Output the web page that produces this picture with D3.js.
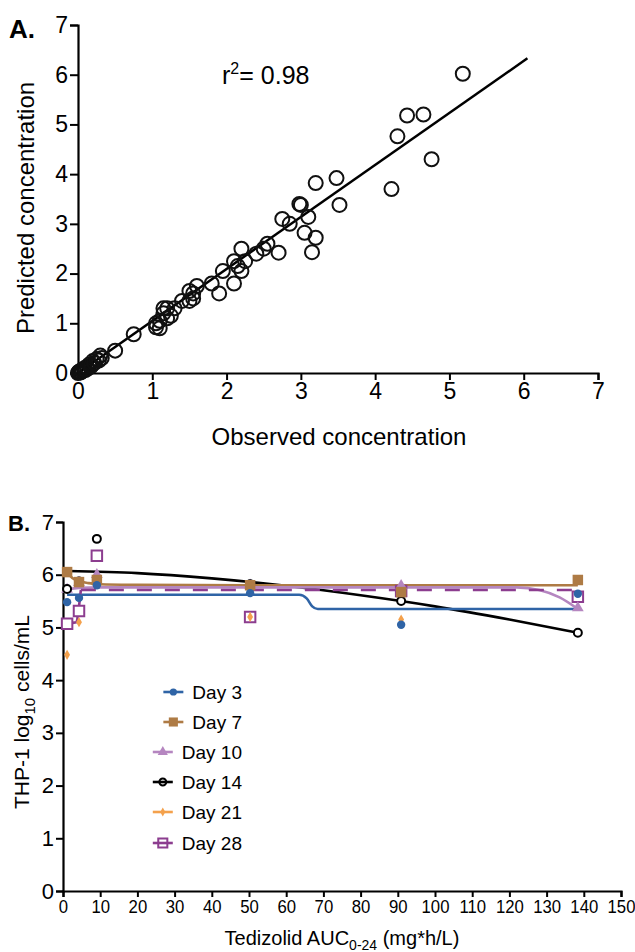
<!DOCTYPE html>
<html>
<head>
<meta charset="utf-8">
<script src="https://cdn.jsdelivr.net/npm/d3@7"></script>
<style>
  body { margin: 0; background: #fff; }
  svg text { font-family: "Liberation Sans", Arial, sans-serif; fill: #000; }
</style>
</head>
<body>
<svg id="fig" width="635" height="952"></svg>
<script>
// ---- Panel A data: observed vs predicted ----
var observedA = [0, 0.01, 0.02, 0.03, 0.04, 0.05, 0.06, 0.08, 0.09, 0.1, 0.12, 0.13, 0.15, 0.17, 0.18, 0.2, 0.22, 0.25, 0.28, 0.3, 0.32, 0.5, 0.75,
  1.05, 1.05, 1.1, 1.1, 1.15, 1.15, 1.2, 1.2, 1.25, 1.3, 1.4, 1.5, 1.5, 1.55, 1.55, 1.6, 1.8, 1.9, 1.95, 2.1, 2.1, 2.15, 2.2, 2.2, 2.25,
  2.4, 2.5, 2.55, 2.7, 2.75, 2.85, 2.98, 3.0, 3.05, 3.1, 3.15, 3.2, 3.2, 3.48, 3.52, 4.22, 4.3, 4.43, 4.65, 4.76, 5.18];
var predictedA = [0, 0.02, 0.03, 0.01, 0.02, 0.06, 0.04, 0.07, 0.1, 0.06, 0.12, 0.09, 0.17, 0.13, 0.15, 0.24, 0.2, 0.28, 0.25, 0.35, 0.3, 0.45, 0.78,
  1.0, 0.92, 0.9, 1.05, 1.2, 1.3, 1.1, 1.3, 1.15, 1.3, 1.45, 1.45, 1.65, 1.5, 1.6, 1.75, 1.8, 1.6, 2.05, 1.8, 2.25, 2.15, 2.5, 2.05, 2.25,
  2.4, 2.5, 2.6, 2.42, 3.1, 3.0, 3.4, 3.38, 2.82, 3.14, 2.43, 3.82, 2.72, 3.92, 3.38, 3.7, 4.76, 5.18, 5.2, 4.3, 6.02];
var fitLineA = [[0, 0], [6.05, 6.33]];
var ticksA = [0, 1, 2, 3, 4, 5, 6, 7];

// ---- Panel B data: THP-1 counts vs tedizolid AUC ----
var doses = [1.1, 4.3, 9.1, 50.3, 90.9, 138.4];
var day3 = [5.48, 5.56, 5.8, 5.65, 5.05, 5.64];
var day7 = [6.05, 5.86, 5.9, 5.8, 5.67, 5.9];
var day10 = [5.72, 5.85, 6.0, 5.8, 5.79, 5.37];
var day14 = [5.73, 5.87, 6.68, 5.82, 5.5, 4.9];
var day21 = [4.48, 5.1, null, 5.2, 5.15, null];
var day28 = [5.07, 5.31, 6.36, 5.2, 5.69, 5.58];

// fitted curves
var fit3x = [1.1, 63.5, 65.5, 67, 68.5, 138.4];
var fit3y = [5.62, 5.62, 5.55, 5.4, 5.35, 5.35];
var fit7x = [1.1, 2.5, 4.3, 7, 10, 20, 50, 138.4];
var fit7y = [6.05, 5.94, 5.88, 5.84, 5.82, 5.81, 5.8, 5.8];
var fit10x = [1.1, 4.3, 10, 122, 128, 133.5, 138.4];
var fit10y = [5.72, 5.75, 5.76, 5.76, 5.71, 5.57, 5.35];
var fit14x = [1.1, 20, 40, 60, 80, 100, 120, 138.4];
var fit14y = [6.07, 6.03, 5.93, 5.79, 5.61, 5.4, 5.15, 4.9];
var fit28x = [1.1, 3.6, 4.3, 4.8];
var fit28y = [5.08, 5.1, 5.4, 5.71];
var fit28dashX = [4.8, 138.4];
var fit28dashY = [5.71, 5.71];

var ticksBy = [0, 1, 2, 3, 4, 5, 6, 7];
var ticksBx = d3.range(0, 151, 10);

var svg = d3.select("#fig");

// ================= Panel A =================
var xA = d3.scaleLinear().domain([0, 7]).range([78, 598]);
var yA = d3.scaleLinear().domain([0, 7]).range([373, 25]);

var gA = svg.append("g");

gA.append("g")
  .attr("transform", "translate(0," + yA(0) + ")")
  .call(d3.axisBottom(xA).tickValues(ticksA).tickSize(7).tickPadding(3).tickFormat(d3.format("d")))
  .call(function(g){
    g.select(".domain").attr("stroke-width", 2.2);
    g.selectAll(".tick line").attr("stroke-width", 2);
    g.selectAll("text").attr("font-size", "23px").attr("font-family", null);
  });

gA.append("g")
  .attr("transform", "translate(" + xA(0) + ",0)")
  .call(d3.axisLeft(yA).tickValues(ticksA).tickSize(8).tickPadding(2).tickFormat(d3.format("d")))
  .call(function(g){
    g.select(".domain").attr("stroke-width", 2.2);
    g.selectAll(".tick line").attr("stroke-width", 2);
    g.selectAll("text").attr("font-size", "23px").attr("font-family", null);
  });

gA.append("path")
  .datum(fitLineA)
  .attr("fill", "none")
  .attr("stroke", "#000")
  .attr("stroke-width", 2.5)
  .attr("d", d3.line().x(function(d){ return xA(d[0]); }).y(function(d){ return yA(d[1]); }));

gA.selectAll("circle.pt")
  .data(observedA.map(function(o, i){ return [o, predictedA[i]]; }))
  .enter()
  .append("circle")
  .attr("class", "pt")
  .attr("cx", function(d){ return xA(d[0]); })
  .attr("cy", function(d){ return yA(d[1]); })
  .attr("r", 7)
  .attr("fill", "none")
  .attr("stroke", "#111")
  .attr("stroke-width", 2);

var r2 = gA.append("text").attr("x", 222).attr("y", 84).attr("font-size", "25px");
r2.append("tspan").text("r");
r2.append("tspan").attr("dy", -10).attr("font-size", "16px").text("2");
r2.append("tspan").attr("dy", 10).text("= 0.98");

gA.append("text")
  .attr("x", 339).attr("y", 445)
  .attr("text-anchor", "middle")
  .attr("font-size", "24px")
  .text("Observed concentration");

gA.append("text")
  .attr("transform", "translate(34,208) rotate(-90)")
  .attr("text-anchor", "middle")
  .attr("font-size", "24px")
  .text("Predicted concentration");

gA.append("text")
  .attr("x", 9).attr("y", 38)
  .attr("font-size", "26px")
  .style("font-weight", "bold")
  .text("A.");

// ================= Panel B =================
var xB = d3.scaleLinear().domain([0, 150]).range([63, 621]);
var yB = d3.scaleLinear().domain([0, 7]).range([891, 522]);

var gB = svg.append("g");

// x tick labels are set a little narrow so "150" fits at the right edge
gB.append("g")
  .attr("transform", "translate(0," + yB(0) + ")")
  .call(d3.axisBottom(xB).tickValues(ticksBx).tickSize(6).tickPadding(3).tickFormat(d3.format("d")))
  .call(function(g){
    g.select(".domain").attr("stroke-width", 2.2);
    g.selectAll(".tick line").attr("stroke-width", 2);
    g.selectAll("text").attr("font-size", "19px").attr("font-family", null)
      .attr("transform", "scale(0.88,1)");
  });

gB.append("g")
  .attr("transform", "translate(" + xB(0) + ",0)")
  .call(d3.axisLeft(yB).tickValues(ticksBy).tickSize(7).tickPadding(2).tickFormat(d3.format("d")))
  .call(function(g){
    g.select(".domain").attr("stroke-width", 2.2);
    g.selectAll(".tick line").attr("stroke-width", 2);
    g.selectAll("text").attr("font-size", "22px").attr("font-family", null);
  });

var colors = {
  d3: "#2f64a6",
  d7: "#ae7b45",
  d10: "#b586c0",
  d14: "#000000",
  d21: "#f4a14c",
  d28: "#8c3d8f"
};

var lineB = d3.line()
  .x(function(d){ return xB(d[0]); })
  .y(function(d){ return yB(d[1]); })
  .curve(d3.curveMonotoneX);

function zipXY(xs, ys) { return xs.map(function(x, i){ return [x, ys[i]]; }); }

function drawFit(xs, ys, color, dash) {
  gB.append("path")
    .datum(zipXY(xs, ys))
    .attr("fill", "none")
    .attr("stroke", color)
    .attr("stroke-width", 2.6)
    .attr("stroke-dasharray", dash || null)
    .attr("d", lineB);
}

drawFit(fit14x, fit14y, colors.d14);
drawFit(fit7x, fit7y, colors.d7);
drawFit(fit10x, fit10y, colors.d10);
drawFit(fit3x, fit3y, colors.d3);
drawFit(fit28x, fit28y, colors.d28);
drawFit(fit28dashX, fit28dashY, colors.d28, "15,13");

// marker styles
var markers = {
  d3:  { type: d3.symbolCircle,   size: 55, fill: colors.d3,  stroke: colors.d3,  sw: 0 },
  d7:  { type: d3.symbolSquare,   size: 110, fill: colors.d7,  stroke: colors.d7,  sw: 0 },
  d10: { type: d3.symbolTriangle, size: 60, fill: colors.d10, stroke: colors.d10, sw: 0 },
  d14: { type: d3.symbolCircle,   size: 50, fill: "#fff",     stroke: colors.d14, sw: 2 },
  d21: { type: d3.symbolDiamond,  size: 30, fill: colors.d21, stroke: colors.d21, sw: 0 },
  d28: { type: d3.symbolSquare,   size: 110, fill: "#fff",     stroke: colors.d28, sw: 2 }
};

function drawPoints(ys, m) {
  gB.append("g")
    .selectAll("path")
    .data(zipXY(doses, ys).filter(function(d){ return d[1] != null; }))
    .enter()
    .append("path")
    .attr("transform", function(d){ return "translate(" + xB(d[0]) + "," + yB(d[1]) + ")"; })
    .attr("d", d3.symbol().type(m.type).size(m.size))
    .attr("fill", m.fill)
    .attr("stroke", m.stroke)
    .attr("stroke-width", m.sw);
}

drawPoints(day28, markers.d28);
drawPoints(day10, markers.d10);
drawPoints(day14, markers.d14);
drawPoints(day7, markers.d7);
drawPoints(day21, markers.d21);
drawPoints(day3, markers.d3);

// legend
var legendNames = ["Day 3", "Day 7", "Day 10", "Day 14", "Day 21", "Day 28"];
var legendKeys = ["d3", "d7", "d10", "d14", "d21", "d28"];
var legendY = [692, 722, 752, 782, 812, 843];

var leg = gB.append("g");
legendNames.forEach(function(name, i){
  var k = legendKeys[i];
  var t = leg.append("text")
    .attr("x", 242).attr("y", legendY[i] + 7)
    .attr("text-anchor", "end")
    .attr("font-size", "19px")
    .text(name);
  var tx = 242 - t.node().getComputedTextLength();
  leg.append("line")
    .attr("x1", tx - 29).attr("x2", tx - 9)
    .attr("y1", legendY[i]).attr("y2", legendY[i])
    .attr("stroke", colors[k])
    .attr("stroke-width", 2.6);
  var m = markers[k];
  leg.append("path")
    .attr("transform", "translate(" + (tx - 19) + "," + legendY[i] + ")")
    .attr("d", d3.symbol().type(m.type).size(m.size * 0.75))
    .attr("fill", m.fill === "#fff" ? "none" : m.fill)
    .attr("stroke", m.stroke)
    .attr("stroke-width", m.sw);
});

var xt = gB.append("text")
  .attr("x", 342).attr("y", 945)
  .attr("text-anchor", "middle")
  .attr("font-size", "20px");
xt.append("tspan").text("Tedizolid AUC");
xt.append("tspan").attr("dy", 5).attr("font-size", "14px").text("0-24");
xt.append("tspan").attr("dy", -5).text(" (mg*h/L)");

var yt = gB.append("text")
  .attr("transform", "translate(29,712) rotate(-90)")
  .attr("text-anchor", "middle")
  .attr("font-size", "21px");
yt.append("tspan").text("THP-1 log");
yt.append("tspan").attr("dy", 6).attr("font-size", "15px").text("10");
yt.append("tspan").attr("dy", -6).text(" cells/mL");

gB.append("text")
  .attr("x", 8).attr("y", 531)
  .attr("font-size", "22px")
  .style("font-weight", "bold")
  .text("B.");
</script>
</body>
</html>
